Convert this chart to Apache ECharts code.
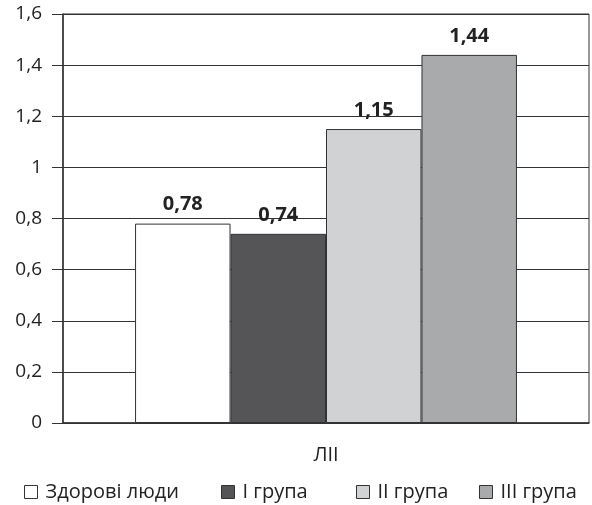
<!DOCTYPE html>
<html>
<head>
<meta charset="utf-8">
<script src="https://cdn.jsdelivr.net/npm/echarts@6/dist/echarts.min.js"></script>
<style>
  html, body { margin: 0; padding: 0; background: #fff; }
  #main { width: 592px; height: 505px; }
</style>
</head>
<body>
<div id="main"></div>
<script>
var categories = ['ЛІІ'];
var seriesNames = ['Здорові люди', 'І група', 'II група', 'III група'];
var seriesValues = [[0.78], [0.74], [1.15], [1.44]];
var seriesColors = ['#ffffff', '#555557', '#d1d2d4', '#a9aaac'];
var yTicks = [0, 0.2, 0.4, 0.6, 0.8, 1, 1.2, 1.4, 1.6];
var legendLeft = [24, 221, 356, 479];

function fmt(v) {
    return String(v).replace('.', ',');
}

var chart = echarts.init(document.getElementById('main'));
var fontFam = '"Open Sans", "DejaVu Sans", sans-serif';

var series = seriesNames.map(function (name, i) {
    return {
        name: name,
        type: 'bar',
        data: seriesValues[i],
        barGap: '0%',
        barCategoryGap: '27.4%',
        itemStyle: {
            color: seriesColors[i],
            borderColor: '#333',
            borderWidth: 1
        },
        label: {
            show: true,
            position: 'top',
            distance: 9,
            formatter: function (p) { return fmt(p.value); },
            fontFamily: fontFam,
            fontWeight: 'bold',
            fontSize: 20,
            color: '#222'
        }
    };
});

// one legend per item so each sits where the reference has it
var legends = seriesNames.map(function (n, i) {
    return {
        left: legendLeft[i],
        top: 482,
        padding: 0,
        itemWidth: 13,
        itemHeight: 13,
        icon: 'rect',
        selectedMode: false,
        textStyle: { fontFamily: fontFam, fontSize: 20, color: '#222', padding: [0, 0, 0, 3] },
        data: [{ name: n, itemStyle: { color: seriesColors[i], borderColor: '#333', borderWidth: 1 } }]
    };
});

var option = {
    backgroundColor: '#fff',
    animation: false,
    grid: {
        left: 63,
        right: 3,
        top: 14,
        bottom: 82,
        show: true,
        borderColor: '#333',
        borderWidth: 1
    },
    legend: legends,
    xAxis: {
        type: 'category',
        data: categories,
        axisLine: { lineStyle: { color: '#333', width: 1.5 } },
        axisTick: { show: false },
        axisLabel: { margin: 22, fontFamily: fontFam, fontSize: 20, color: '#222' }
    },
    yAxis: {
        type: 'value',
        min: yTicks[0],
        max: yTicks[yTicks.length - 1],
        interval: 0.2,
        axisLine: { show: true, lineStyle: { color: '#333', width: 1.5 } },
        axisTick: { show: true, length: 11, lineStyle: { color: '#333' } },
        splitLine: { show: true, lineStyle: { color: '#333', width: 1 } },
        axisLabel: {
            margin: 21,
            fontFamily: fontFam,
            fontSize: 19,
            color: '#222',
            formatter: function (v) { return fmt(Math.round(v * 10) / 10); }
        }
    },
    series: series
};

chart.setOption(option);
</script>
</body>
</html>
